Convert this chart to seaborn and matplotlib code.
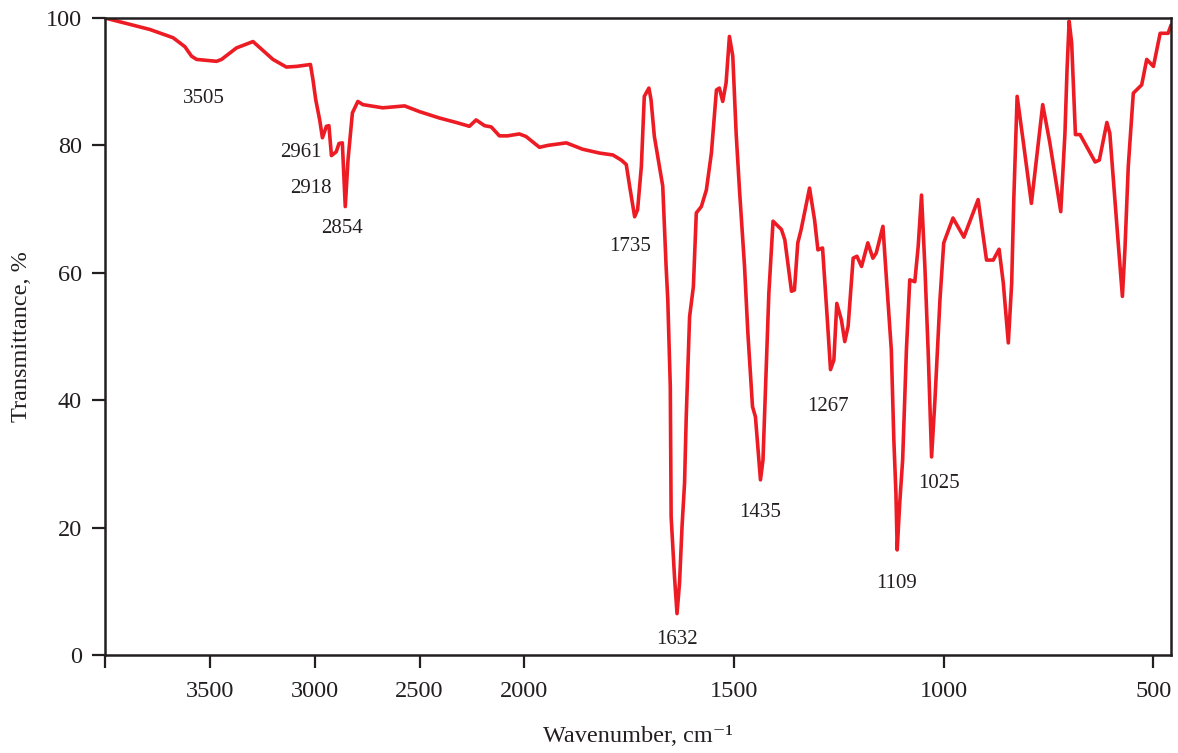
"""
FTIR spectrum: transmittance vs wavenumber, with labelled absorption bands.
Axis is compressed 2:1 above 2000 cm-1, as on the usual instrument printout.
"""

import matplotlib
matplotlib.use("Agg")
import matplotlib.pyplot as plt
import numpy as np
import pandas as pd
import seaborn as sns

# spectrum (cm-1, % T)
wavenumber = [
    4000, 3786, 3675, 3619, 3587, 3563, 3468, 3444, 3373, 3294, 3199, 3135,
    3087, 3020, 3008, 2995, 2976, 2963, 2944, 2932, 2920, 2897, 2884, 2868,
    2854, 2841, 2820, 2794, 2770, 2675, 2571, 2500, 2405, 2325, 2262, 2230,
    2190, 2158, 2119, 2080, 2024, 1996, 1964, 1944, 1900, 1861, 1821, 1789,
    1769, 1757, 1749, 1737, 1730, 1721, 1714, 1703, 1698, 1690, 1678, 1670,
    1662, 1658, 1652, 1650, 1642, 1636, 1630, 1624, 1618, 1614, 1606, 1597,
    1590, 1578, 1566, 1554, 1542, 1535, 1527, 1519, 1511, 1503, 1495, 1487,
    1475, 1467, 1456, 1449, 1437, 1431, 1423, 1417, 1407, 1387, 1379, 1363,
    1356, 1348, 1340, 1320, 1308, 1300, 1289, 1278, 1270, 1262, 1255, 1244,
    1236, 1228, 1216, 1207, 1196, 1181, 1169, 1161, 1145, 1137, 1125, 1119,
    1114, 1111, 1105, 1098, 1089, 1081, 1069, 1061, 1053, 1045, 1037, 1029,
    1021, 1009, 1000, 978, 952, 918, 898, 882, 868, 858, 846, 838,
    833, 825, 811, 791, 764, 747, 721, 711, 706, 701, 695, 686,
    675, 639, 629, 611, 604, 592, 584, 574, 568, 560, 548, 528,
    516, 500, 484, 465, 458,
]
transmittance = [
    100.0, 98.2, 96.9, 95.5, 94.0, 93.5, 93.2, 93.5, 95.3, 96.3, 93.5, 92.3,
    92.4, 92.7, 90.3, 87.2, 84.0, 81.2, 83.0, 83.1, 78.4, 79.0, 80.3, 80.4,
    70.4, 77.7, 85.1, 86.9, 86.4, 85.9, 86.2, 85.3, 84.3, 83.6, 83.0, 84.0,
    83.1, 82.9, 81.5, 81.5, 81.8, 81.4, 79.7, 80.0, 80.4, 79.4, 78.8, 78.5,
    77.7, 77.0, 73.6, 68.8, 69.9, 76.7, 87.7, 89.0, 87.2, 81.4, 76.7, 73.6,
    61.0, 55.8, 42.1, 21.7, 12.3, 6.5, 11.3, 20.2, 27.0, 37.4, 53.1, 57.8,
    69.4, 70.4, 73.0, 78.8, 88.7, 89.0, 86.9, 89.8, 97.1, 94.0, 81.9, 73.0,
    61.0, 50.5, 39.0, 37.4, 27.5, 30.6, 45.3, 56.8, 68.1, 66.8, 65.2, 57.1,
    57.3, 64.7, 66.8, 73.3, 68.3, 63.6, 63.9, 53.1, 44.8, 46.3, 55.2, 52.6,
    49.2, 51.6, 62.3, 62.6, 61.0, 64.7, 62.3, 63.1, 67.3, 59.4, 47.9, 33.8,
    25.4, 16.5, 23.8, 30.6, 47.9, 58.9, 58.6, 64.1, 72.2, 61.0, 47.4, 31.1,
    40.0, 55.8, 64.7, 68.6, 65.6, 71.5, 62.0, 62.0, 63.7, 58.4, 49.0, 58.4,
    71.5, 87.7, 80.9, 70.9, 86.4, 80.4, 69.6, 81.9, 91.9, 99.5, 96.1, 81.7,
    81.7, 77.4, 77.7, 83.6, 81.9, 71.5, 64.7, 56.3, 63.6, 76.7, 88.2, 89.5,
    93.5, 92.4, 97.6, 97.6, 98.9,
]

# band labels and where their text sits (cm-1, % T)
peak_labels = ["3505", "2961", "2918", "2854", "1735", "1632",
               "1435", "1267", "1109", "1025"]
label_x = [3529, 3068, 3019, 2871, 1749, 1635, 1439, 1277, 1113, 1012]
label_y = [87.3, 78.9, 73.2, 66.9, 64.1, 2.5, 22.3, 39.0, 11.3, 27.0]

x_ticks = [4000, 3500, 3000, 2500, 2000, 1500, 1000, 500]
x_ticklabels = ["", "3500", "3000", "2500", "2000", "1500", "1000", "500"]
y_ticks = [0, 20, 40, 60, 80, 100]

LINE_RED = "#ed1c24"
INK = "#231f20"
SERIF = ["Liberation Serif", "DejaVu Serif"]

sns.set_style("ticks")
plt.rcParams["font.family"] = SERIF
plt.rcParams["text.color"] = INK
plt.rcParams["axes.labelcolor"] = INK
plt.rcParams["xtick.color"] = INK
plt.rcParams["ytick.color"] = INK


def _fwd(x):
    x = np.asarray(x, dtype=float)
    return np.where(x > 2000, 2000 + (x - 2000) / 2.0, x)


def _inv(u):
    u = np.asarray(u, dtype=float)
    return np.where(u > 2000, 2000 + (u - 2000) * 2.0, u)


df = pd.DataFrame({"wavenumber": wavenumber, "transmittance": transmittance})

fig = plt.figure(figsize=(11.78, 7.53), dpi=100)
ax = fig.add_axes([0.0891, 0.1301, 0.905, 0.846])

sns.lineplot(data=df, x="wavenumber", y="transmittance", ax=ax,
             color=LINE_RED, linewidth=2.6, estimator=None, sort=False)

ax.set_xscale("function", functions=(_fwd, _inv))
ax.set_xlim(4000, 458)
ax.set_ylim(0, 100)

ax.set_xticks(x_ticks)
ax.set_xticklabels(x_ticklabels)
ax.set_yticks(y_ticks)
ax.xaxis.set_minor_locator(matplotlib.ticker.NullLocator())
ax.tick_params(axis="both", direction="out", length=9.5, width=1.6,
               labelsize=17.5)
ax.tick_params(axis="x", pad=9)
ax.tick_params(axis="y", pad=7)

for side in ["left", "right", "top", "bottom"]:
    ax.spines[side].set_visible(True)
    ax.spines[side].set_linewidth(1.8)
    ax.spines[side].set_color(INK)

ax.set_xlabel("Wavenumber, cm⁻¹", fontsize=17.5, va="center")
ax.xaxis.set_label_coords(0.5, -0.128)
ax.set_ylabel("Transmittance, %", fontsize=17.5, va="center")
ax.yaxis.set_label_coords(-0.078, 0.5)

for txt, lx, ly in zip(peak_labels, label_x, label_y):
    ax.text(lx, ly, txt, ha="center", va="center", fontsize=15, color=INK)

fig.savefig("out.png", dpi=100)
plt.close(fig)
